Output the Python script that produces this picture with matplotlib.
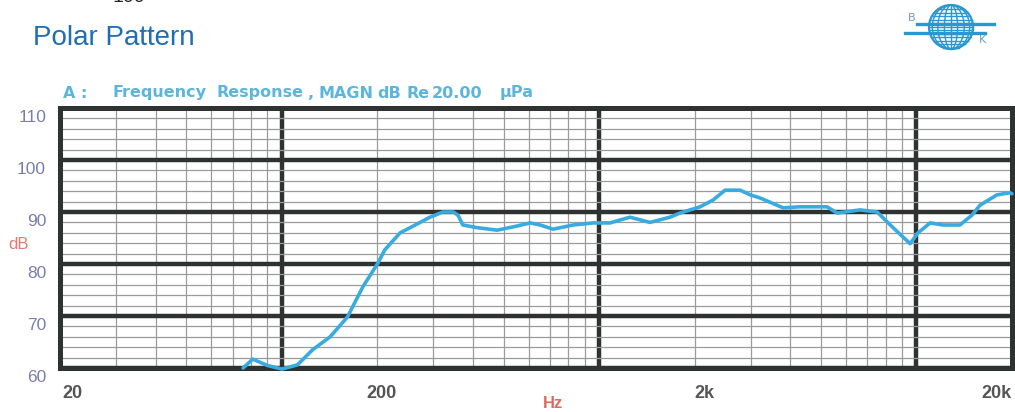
import numpy as np
import matplotlib
matplotlib.use("Agg")
import matplotlib.pyplot as plt
import matplotlib.transforms as mtransforms
from matplotlib.patches import Circle, Ellipse

# frequency response
freq_hz = [75.5, 81, 90, 100, 112, 125, 142, 161, 180, 201, 211, 236, 254, 293,
           322, 347, 359, 372, 412, 477, 551, 606, 652, 716, 828, 957, 1082, 1250,
           1446, 1672, 1798, 2080, 2286, 2494, 2780, 2992, 3214, 3800, 4296, 5224,
           5622, 6640, 7516, 8434, 9550, 10116, 11040, 12134, 13710, 14960, 15850,
           17940, 19720, 20000]
level_db = [60.0, 61.7, 60.5, 59.8, 60.6, 63.5, 66.0, 69.8, 75.6, 80.2, 82.7, 86.0,
            87.0, 89.0, 90.0, 90.0, 89.4, 87.5, 87.0, 86.5, 87.3, 87.9, 87.5, 86.7,
            87.5, 87.9, 87.9, 89.0, 88.0, 89.0, 89.8, 91.0, 92.3, 94.2, 94.2, 93.3,
            92.7, 90.8, 91.0, 91.0, 89.8, 90.4, 90.0, 87.0, 83.9, 86.0, 87.9, 87.5,
            87.5, 89.4, 91.3, 93.3, 93.7, 93.5]

x_tick_pos = [20, 200, 2000, 20000]
x_tick_lbl = ["20", "200", "2k", "20k"]
y_ticks = [60, 70, 80, 90, 100, 110]
header_words = ["A :", "Frequency", "Response", ",", "MAGN", "dB", "Re", "20.00", "\u00b5Pa"]
header_x_px = [63, 113, 216, 307, 318, 377, 406, 432, 500]

W, H = 1015, 412
fig = plt.figure(figsize=(W / 100, H / 100), dpi=100)
fig.patch.set_facecolor("white")

ax = fig.add_axes([60 / W, 1 - 368 / H, 952 / W, 260 / H])
ax.set_xscale("log")
ax.set_xlim(20, 20000)
ax.set_ylim(60, 110)

grid_dark = "#2e3230"
ax.set_xticks([100, 1000, 10000])
ax.set_xticks([k * d for d in (10, 100, 1000) for k in range(2, 10) if 20 < k * d < 20000], minor=True)
ax.set_yticks(y_ticks)
ax.set_yticks(np.arange(62, 110, 2), minor=True)
ax.grid(which="major", color=grid_dark, lw=3.2, zorder=1)
ax.grid(which="minor", color="#9a9c9c", lw=0.9, zorder=0)
ax.tick_params(which="both", length=0, labelbottom=False, labelleft=False)
for s in ax.spines.values():
    s.set_color(grid_dark)
    s.set_linewidth(3.6)

# y labels: on the sheet they sit a little below their lines
px = fig.dpi_scale_trans
ytrans = mtransforms.blended_transform_factory(fig.transFigure, ax.transData)
for v in y_ticks:
    ax.text(46 / W, v, str(v), transform=ytrans + mtransforms.ScaledTranslation(0, -0.1, px),
            ha="right", va="center", fontsize=12.5, color="#7a7eae",
            family="Liberation Sans")

# x labels
xtrans = mtransforms.blended_transform_factory(ax.transData, fig.transFigure)
x_shift = [0.02, -0.11, 0.0, 0.0]
for pos, lbl, sh in zip(x_tick_pos, x_tick_lbl, x_shift):
    ha = "right" if lbl == "20k" else "left"
    ax.text(pos, 1 - 393 / H, lbl, transform=xtrans + mtransforms.ScaledTranslation(sh, 0, px),
            ha=ha, va="center", fontsize=13, color="#555555", fontweight="bold",
            family="Liberation Sans")

ax.plot(freq_hz, level_db, color="#38ace0", lw=2.6, zorder=3, clip_on=False,
        solid_joinstyle="round", solid_capstyle="round")

fig.text(33 / W, 1 - 38 / H, "Polar Pattern", fontsize=20, color="#1f6db5",
         va="center", family="Liberation Sans")
fig.text(113 / W, 1 + 2 / H, "100", fontsize=14, color="#222222", va="center",
         family="Liberation Sans")

# header line, spaced out like the analyser printout
hdr_col = "#5cb5dc"
for word, xp in zip(header_words, header_x_px):
    fig.text(xp / W, 1 - 93 / H, word, fontsize=11.5, color=hdr_col, fontweight="bold",
             va="center", family="DejaVu Sans")

fig.text(8 / W, 1 - 245 / H, "dB", fontsize=12, color="#e47a72", va="center",
         family="Liberation Sans")
fig.text(553 / W, 1 - 404 / H, "Hz", fontsize=12, color="#e06a60", va="center",
         ha="center", fontweight="bold", family="Liberation Sans")

# B&K style globe logo
lg = fig.add_axes([895 / W, 1 - 56 / H, 110 / W, 56 / H])
lg.set_xlim(895, 1005)
lg.set_ylim(56, 0)
lg.axis("off")
blue = "#2a98d0"
cx, cy, r = 951, 27, 22
lg.add_patch(Circle((cx, cy), r, fill=False, ec=blue, lw=1.6))
for wdt in (0.3, 0.6, 0.85):
    lg.add_patch(Ellipse((cx, cy), 2 * r * wdt, 2 * r, fill=False, ec=blue, lw=1.0))
lg.plot([cx, cx], [cy - r, cy + r], color=blue, lw=1.0)
for yy in np.arange(cy - r + 4, cy + r, 3.5):
    hw = np.sqrt(max(r ** 2 - (yy - cy) ** 2, 0))
    lg.plot([cx - hw, cx + hw], [yy, yy], color=blue, lw=1.0)
lg.plot([917, 994], [24, 24], color=blue, lw=2.4)
lg.plot([905, 985], [33, 33], color=blue, lw=2.4)
lg.text(912, 23, "B", fontsize=8, color="#6a9fbf", ha="center", va="bottom")
lg.text(982, 35, "K", fontsize=8, color="#6a9fbf", ha="center", va="top")

fig.savefig("out.png", dpi=100, facecolor="white")
